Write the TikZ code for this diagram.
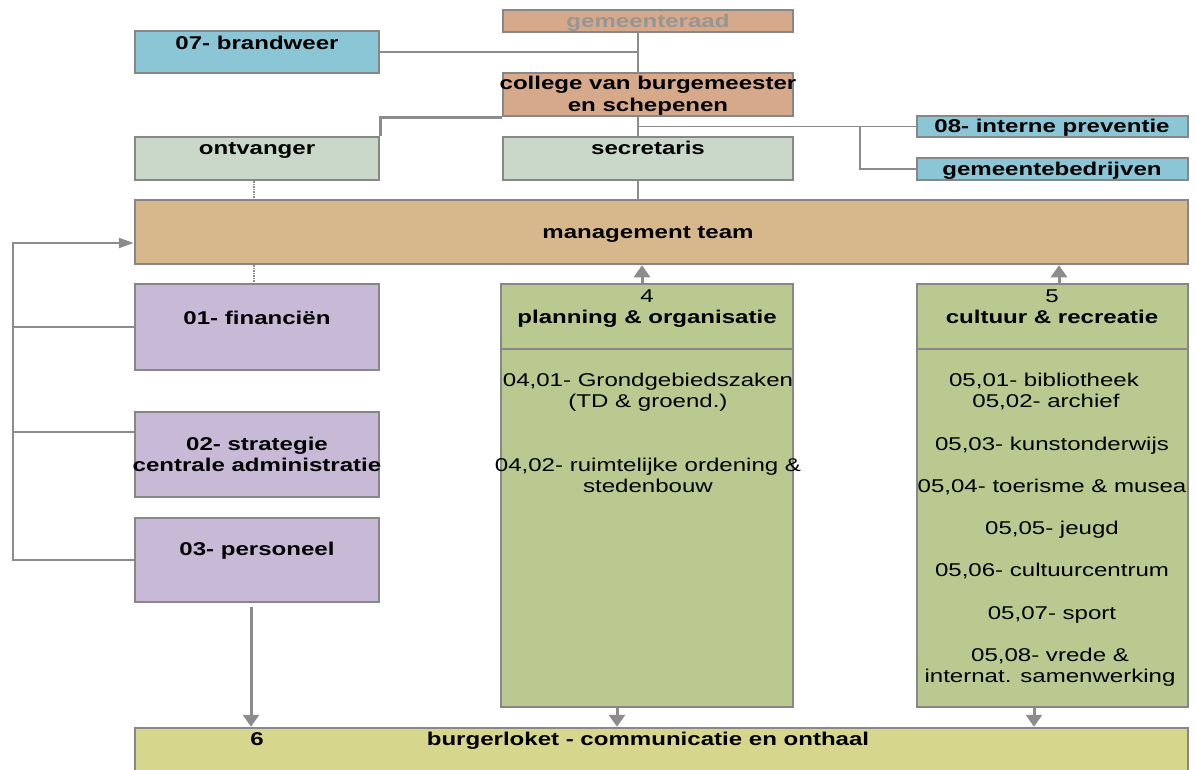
\documentclass[tikz,border=0pt]{standalone}
\usepackage{fontspec}
\setmainfont{Liberation Sans}[FakeStretch=1.3]
\usetikzlibrary{fit,arrows.meta}
\definecolor{salmon}{RGB}{214,169,138}
\definecolor{lblue}{RGB}{139,198,214}
\definecolor{sage}{RGB}{201,216,201}
\definecolor{tan}{RGB}{214,184,140}
\definecolor{lilac}{RGB}{200,186,215}
\definecolor{olive}{RGB}{186,201,143}
\definecolor{khaki}{RGB}{214,214,140}
\definecolor{bordergray}{RGB}{135,135,135}
\definecolor{linegray}{RGB}{140,140,140}
\definecolor{txtgray}{RGB}{150,150,150}
\begin{document}
\begin{tikzpicture}[x=1pt,y=-1pt,
  box/.style={draw=bordergray, line width=2.5pt, inner sep=0pt},
  btxt/.style={font=\fontsize{18.5}{21}\selectfont\bfseries, anchor=base, inner sep=0pt},
  rtxt/.style={font=\fontsize{18.5}{21}\selectfont, anchor=base, inner sep=0pt},
  con/.style={draw=linegray, line width=1.5pt},
  dcon/.style={draw=linegray, line width=1.5pt, densely dotted},
  fb/.style={draw=linegray, line width=2.5pt},
  arr/.style={draw=linegray, line width=3pt, -{Triangle[width=16pt,length=12pt]}}]
\path[use as bounding box] (0,0) rectangle (1196,769);
\clip (0,0) rectangle (1196,769);
% boxes
\node[box, fill=salmon, fit={(503,10) (793,32)}] (gr) {};
\node[box, fill=lblue, fit={(135,31) (379,73)}] (bw) {};
\node[box, fill=salmon, fit={(503,73) (793,116)}] (col) {};
\node[box, fill=sage, fit={(135,137) (379,180)}] (ont) {};
\node[box, fill=sage, fit={(503,137) (793,180)}] (sec) {};
\node[box, fill=lblue, fit={(917,116) (1188,137)}] (ip) {};
\node[box, fill=lblue, fit={(917,158) (1188,180)}] (gb) {};
\node[box, fill=tan, fit={(135,200) (1188,264)}] (mt) {};
\node[box, fill=lilac, fit={(135,284) (379,370)}] (fin) {};
\node[box, fill=lilac, fit={(135,412) (379,497)}] (st) {};
\node[box, fill=lilac, fit={(135,518) (379,602)}] (pe) {};
\node[box, fill=olive, fit={(501,284) (793,707)}] (pl) {};
\node[box, fill=olive, fit={(917,284) (1188,707)}] (cu) {};
\node[box, fill=khaki, fit={(135,728) (1188,790)}] (bl) {};
% header dividers
\coordinate (hd) at (0,349);
\draw[draw=bordergray, line width=2.5pt] (pl.west |- hd) -- (pl.east |- hd);
\draw[draw=bordergray, line width=2.5pt] (cu.west |- hd) -- (cu.east |- hd);
% helper coordinates
\coordinate (vx) at (638,0);
\coordinate (vx2) at (860,0);
\coordinate (dx) at (254,0);
\coordinate (lx) at (13,0);
\coordinate (ay) at (0,243);
\coordinate (cy2) at (0,432);
\coordinate (ax1) at (642,0);
\coordinate (ax2) at (1059,0);
\coordinate (a3s) at (251,607);
\coordinate (ax4) at (617,0);
\coordinate (ax5) at (1034,0);
% connectors
\draw[con] (gr.south -| vx) -- (col.north -| vx);
\draw[con] (bw.east) -- (bw.east -| vx);
\draw[fb] (col.south west) -| (ont.north east);
\draw[con] (col.south -| vx) -- (sec.north -| vx);
\draw[con] (vx |- ip.west) -- (ip.west);
\draw[con] (vx2 |- ip.west) |- (gb.west);
\draw[dcon] (dx |- ont.south) -- (dx |- mt.north);
\draw[con] (vx |- sec.south) -- (vx |- mt.north);
\draw[dcon] (dx |- mt.south) -- (dx |- fin.north);
\draw[fb] (fin.west) -- (lx |- fin.west);
\draw[fb] (st.west |- cy2) -- (lx |- cy2);
\draw[fb, -{Triangle[width=10pt,length=15pt]}] (pe.west) -| (lx |- ay) -- (mt.west |- ay);
\draw[arr] (ax1 |- pl.north) -- (ax1 |- mt.south);
\draw[arr] (ax2 |- cu.north) -- (ax2 |- mt.south);
\draw[arr] (a3s) -- (a3s |- bl.north);
\draw[arr] (ax4 |- pl.south) -- (ax4 |- bl.north);
\draw[arr] (ax5 |- cu.south) -- (ax5 |- bl.north);
% texts
\node[btxt, text=txtgray] (tgr) at (648,27) {gemeenteraad};
\node[btxt] (tbw) at (257,49) {07- brandweer};
\node[btxt] (tcol1) at (648,89) {college van burgemeester};
\node[btxt] (tcol2) at (648,111) {en schepenen};
\node[btxt] (tont) at (257,154) {ontvanger};
\node[btxt] (tsec) at (648,154) {secretaris};
\node[btxt] (tip) at (1052,132) {08- interne preventie};
\node[btxt] (tgb) at (1052,175) {gemeentebedrijven};
\node[btxt] (tmt) at (648,238) {management team};
\node[btxt] (tfin) at (257,324) {01- financiën};
\node[rtxt] (t4) at (647,302) {4};
\node[btxt] (tpl) at (647,323) {planning \& organisatie};
\node[rtxt] (t5) at (1052,302) {5};
\node[btxt] (tcu) at (1052,323) {cultuur \& recreatie};
\node[btxt] (tst1) at (257,450) {02- strategie};
\node[btxt] (tst2) at (257,471) {centrale administratie};
\node[btxt] (tpe) at (257,555) {03- personeel};
\node[btxt] (t6) at (257,745) {6};
\node[btxt] (tbl) at (648,745) {burgerloket - communicatie en onthaal};
\node[rtxt] (p1) at (648,386) {04,01- Grondgebiedszaken};
\node[rtxt] (p2) at (648,407) {(TD \& groend.)};
\node[rtxt] (p3) at (648,471) {04,02- ruimtelijke ordening \&};
\node[rtxt] (p4) at (648,492) {stedenbouw};
\node[rtxt] (c1) at (1044,386) {05,01- bibliotheek};
\node[rtxt] (c2) at (1046,407) {05,02- archief};
\node[rtxt] (c3) at (1052,450) {05,03- kunstonderwijs};
\node[rtxt] (c4) at (1052,492) {05,04- toerisme \& musea};
\node[rtxt] (c5) at (1052,534) {05,05- jeugd};
\node[rtxt] (c6) at (1052,576) {05,06- cultuurcentrum};
\node[rtxt] (c7) at (1052,619) {05,07- sport};
\node[rtxt] (c8) at (1050,661) {05,08- vrede \&};
\node[rtxt] (c9) at (1050,682) {internat. samenwerking};
\end{tikzpicture}
\end{document}
